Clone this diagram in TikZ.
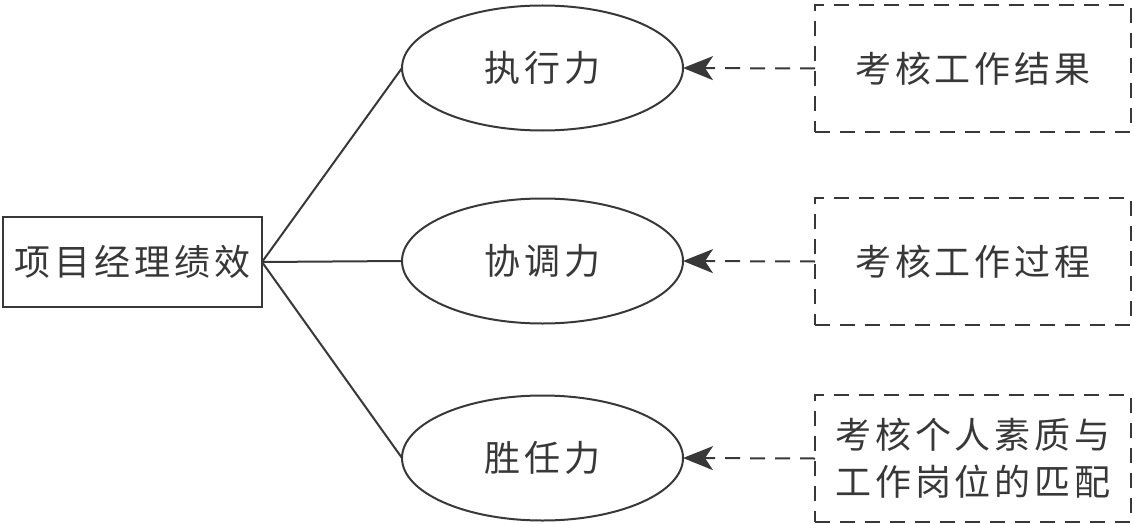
\documentclass[tikz,border=0pt]{standalone}
\usepackage{fontspec}
\usetikzlibrary{shapes.geometric,arrows.meta}
\newfontfamily\cjk[LetterSpace=11]{Noto Sans CJK SC}
\definecolor{ink}{HTML}{383838}
\begin{document}
\begin{tikzpicture}[x=1pt,y=-1pt,
  every node/.style={inner sep=0pt, outer sep=0pt, text=ink, font=\cjk\fontsize{36}{47}\selectfont},
  mainbox/.style={draw=ink, line width=2.2pt, rectangle, minimum width=259pt, minimum height=90pt},
  ell/.style={draw=ink, line width=2pt, ellipse, minimum width=281pt, minimum height=125pt},
  dbox/.style={draw=ink, line width=2pt, rectangle, dash pattern=on 15pt off 10pt, minimum width=316pt, minimum height=127pt, align=center},
  link/.style={draw=ink, line width=2pt},
  darrow/.style={draw=ink, line width=2pt, dash pattern=on 15pt off 10pt, -{Stealth[length=30pt,width=24pt,inset=8pt]}}
]
\useasboundingbox (0,0) rectangle (1134,524);
\node[mainbox] (lb) at (132.5,262) {项目经理绩效};
\node[ell] (e1) at (542.5,68) {执行力};
\node[ell] (e2) at (542.5,261) {协调力};
\node[ell] (e3) at (542.5,458) {胜任力};
\node[dbox] (r1) at (973,68.5) {考核工作结果};
\node[dbox] (r2) at (973,261.5) {考核工作过程};
\node[dbox] (r3) at (973,458.5) {考核个人素质与\\工作岗位的匹配};
\draw[link] (lb.east) -- (e1.west);
\draw[link] (lb.east) -- (e2.west);
\draw[link] (lb.east) -- (e3.west);
\draw[darrow] (r1.west) -- (e1.east);
\draw[darrow] (r2.west) -- (e2.east);
\draw[darrow] (r3.west) -- (e3.east);
\end{tikzpicture}
\end{document}
